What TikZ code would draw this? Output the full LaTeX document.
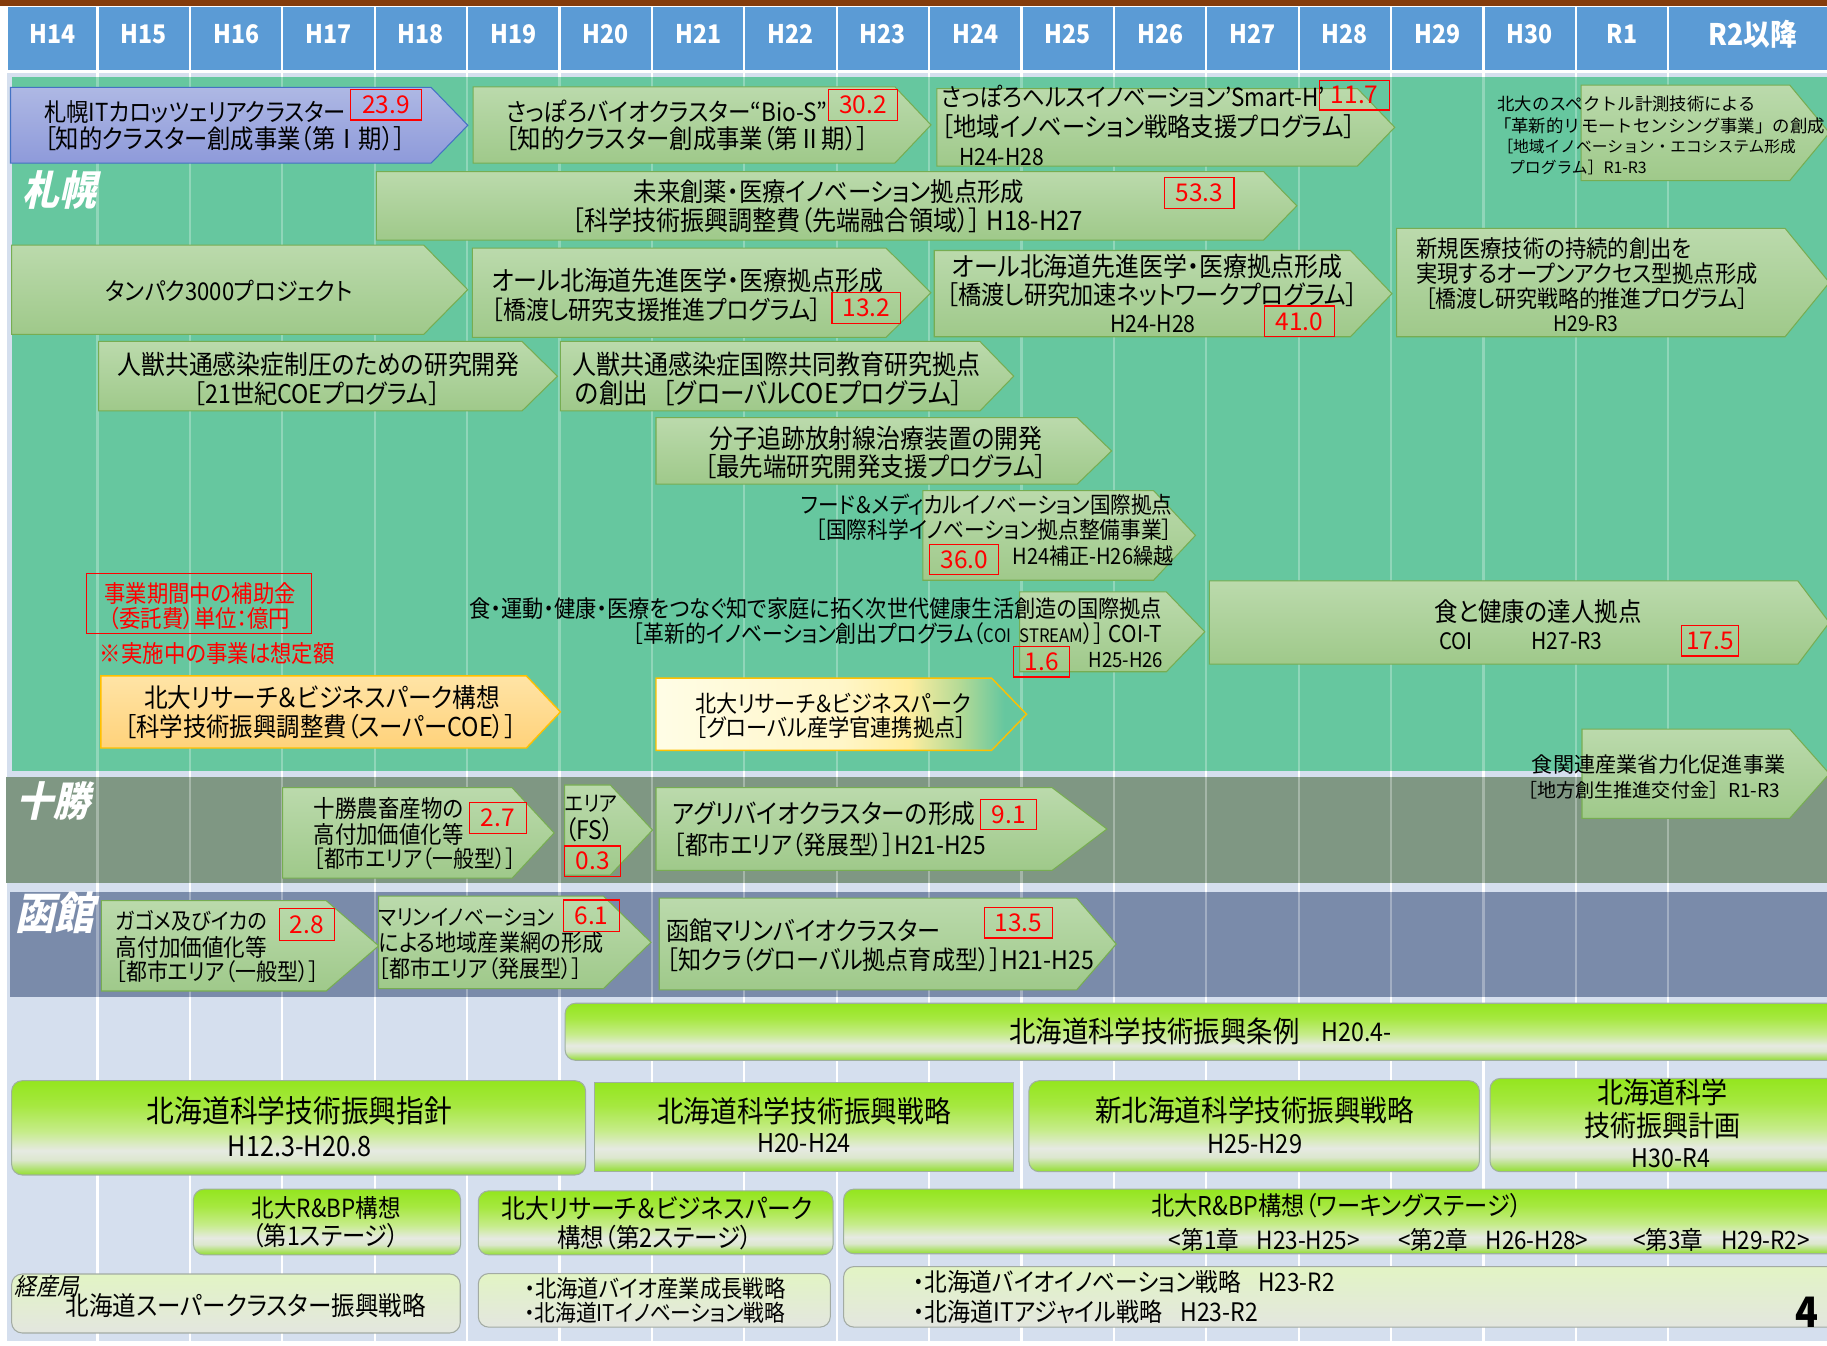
\documentclass[tikz,border=0pt]{standalone}
\usepackage{graphicx}
\usepackage{fontspec}
\setmainfont{Noto Sans CJK JP}[FakeStretch=0.9,RawFeature=+palt]
\newfontfamily\cjkn{Noto Sans CJK JP}
\newfontfamily\cjkit{Noto Sans CJK JP}[FakeStretch=0.9,FakeSlant=0.22,RawFeature=+palt]
\definecolor{brownbar}{HTML}{843C0C}
\definecolor{hdr}{HTML}{5B9BD5}
\definecolor{bgblue}{HTML}{D5DFEE}
\definecolor{mint}{HTML}{66C79F}
\definecolor{tokachi}{HTML}{7F9783}
\definecolor{hakodate}{HTML}{7A8BAA}
\definecolor{gTop}{HTML}{BBDAAC}
\definecolor{gBot}{HTML}{9FC98A}
\definecolor{garrB}{HTML}{77AD52}
\definecolor{bTop}{HTML}{AEB8E4}
\definecolor{bBot}{HTML}{8E9ADA}
\definecolor{bB}{HTML}{4472C4}
\definecolor{oTop}{HTML}{FFE4A6}
\definecolor{oBot}{HTML}{FFD27A}
\definecolor{oB}{HTML}{FFC000}
\definecolor{yA}{HTML}{FFFDE6}
\definecolor{yB}{HTML}{FFF6C8}
\definecolor{yC}{HTML}{FFEEA0}
\definecolor{yD}{HTML}{B4DA96}
\definecolor{gbA}{HTML}{92DE30}
\definecolor{gbP}{HTML}{DCE7CE}
\definecolor{gbQ}{HTML}{E6EAE2}
\definecolor{gbR}{HTML}{C6EC8A}
\definecolor{gbS}{HTML}{A6E840}
\definecolor{gbT}{HTML}{94E61E}
\definecolor{gbB}{HTML}{9FB09F}
\definecolor{pTop}{HTML}{E2F4C4}
\definecolor{pBot}{HTML}{E3E6DF}
\definecolor{pbB}{HTML}{A3ABA3}
\pgfdeclareverticalshading{gbar}{100bp}{color(0bp)=(gbA); color(25bp)=(gbA); color(33bp)=(gbP); color(38bp)=(gbQ); color(48bp)=(gbR); color(62bp)=(gbS); color(75bp)=(gbT); color(100bp)=(gbT)}
\pgfdeclarehorizontalshading{ygr}{100bp}{color(0bp)=(yA); color(25bp)=(yA); color(50bp)=(yB); color(59bp)=(yC); color(66bp)=(yD); color(72bp)=(mint); color(100bp)=(mint)}
\newcommand\fw[2]{\resizebox{#1pt}{!}{#2}}
\newcommand\penta[6]{\pgfmathsetmacro\ymid{(#3+#6)/2}\path[#1] (#2,#3) -- (#4,#3) -- (#5,\ymid) -- (#4,#6) -- (#2,#6) -- cycle;}
\tikzset{
 garr/.style={draw=garrB, line width=0.9pt, top color=gTop, bottom color=gBot},
 barr/.style={draw=bB, line width=0.9pt, top color=bTop, bottom color=bBot},
 oarr/.style={draw=oB, line width=1.2pt, top color=oTop, bottom color=oBot},
 yarr/.style={draw=oB, line width=1.2pt, shade, shading=ygr},
 gbox/.style={draw=gbB, line width=0.9pt, rounded corners=9pt, shade, shading=gbar},
 gsq/.style={draw=gbB, line width=0.9pt, shade, shading=gbar},
 pbox/.style={draw=pbB, line width=0.9pt, rounded corners=9pt, top color=pTop, bottom color=pBot},
 rb/.style={draw=red, line width=1pt, text=red, inner sep=0pt, font=\cjkn\fontsize{21}{21}\selectfont},
 tx/.style={inner sep=0pt, anchor=west, font=\fontsize{20}{24}\selectfont},
 txc/.style={inner sep=0pt, anchor=center, font=\fontsize{20}{24}\selectfont},
 txn/.style={inner sep=0pt, anchor=west, font=\cjkn\fontsize{20}{24}\selectfont},
 hd/.style={inner sep=0pt, text=white, font=\bfseries\fontsize{22}{22}\selectfont},
 lbl/.style={inner sep=0pt, text=white, font=\cjkit\bfseries\fontsize{30}{30}\selectfont}
}
\newcommand\rbox[6]{\node[rb, minimum width=#4pt, minimum height=#5pt] (#1) at (#2,#3) {#6};}
\begin{document}
\begin{tikzpicture}[x=1pt,y=-1pt]
\useasboundingbox (0,0) rectangle (1568,1155);
\fill[white] (0,0) rectangle (1568,1155);
% top bar and header
\fill[brownbar] (0,0) rectangle (1568,5);
\fill[hdr] (7,6.3) rectangle (82.7,60);
\node[hd] (h0) at (45,29) {H14};
\foreach \k/\lab in {1/H15,2/H16,3/H17,4/H18,5/H19,6/H20,7/H21,8/H22,9/H23,10/H24,11/H25,12/H26,13/H27,14/H28,15/H29,16/H30,17/R1}{
 \pgfmathsetmacro\xa{83.7+79.3*(\k-1)+1}
 \pgfmathsetmacro\xb{83.7+79.3*\k-1}
 \pgfmathsetmacro\xc{83.7+79.3*(\k-0.5)}
 \fill[hdr] (\xa,6.3) rectangle (\xb,60);
 \node[hd] (h\k) at (\xc,29) {\lab};
}
\fill[hdr] (1432.8,6.3) rectangle (1568,60);
\node[hd] (h18) at (1504,29) {\fw{76}{R2以降}};
% background and bands
\fill[bgblue] (6,63) rectangle (1568,1151);
\foreach \k in {0,...,17}{\draw[white, line width=2pt] ({83.7+79.3*\k},63) -- ({83.7+79.3*\k},1151);}
\fill[mint] (10,66) rectangle (1568,661.4);
\fill[tokachi] (4.8,666.5) rectangle (1568,757.5);
\fill[hakodate] (9,765.8) rectangle (1568,855.7);
\foreach \k in {0,...,17}{
 \draw[white, opacity=0.28, line width=2pt] ({83.7+79.3*\k},66) -- ({83.7+79.3*\k},661.4);
 \draw[white, opacity=0.3, line width=2pt] ({83.7+79.3*\k},666.5) -- ({83.7+79.3*\k},757.5);
 \draw[white, opacity=0.3, line width=2pt] ({83.7+79.3*\k},765.8) -- ({83.7+79.3*\k},855.7);}
\node[lbl] (lsap) at (51,163) {\fw{63}{札幌}};
\node[lbl] (ltok) at (46,687) {\fw{63}{十勝}};
\node[lbl] (lhak) at (47,783) {\fw{68}{函館}};
% ---- Sapporo ----
\penta{barr}{9}{75}{370}{401.5}{140}
\node[tx] (a1) at (37.8,96) {\fw{259}{札幌ITカロッツェリアクラスター}};
\node[tx] (a1b) at (37.8,119) {\fw{310}{［知的クラスター創成事業（第Ⅰ期）］}};
\rbox{r1}{331.3}{89.9}{60.6}{26.3}{23.9}
\penta{garr}{406}{74.5}{768}{799}{140}
\node[tx] (a2) at (434,96) {\fw{276}{さっぽろバイオクラスター“Bio-S”}};
\node[tx] (a2b) at (434,119) {\fw{311}{［知的クラスター創成事業（第Ⅱ期）］}};
\rbox{r2}{740.8}{90.3}{59.5}{26.6}{30.2}
\penta{garr}{804}{76}{1165}{1197}{142.5}
\node[tx] (a3) at (808,83) {\fw{329}{さっぽろヘルスイノベーション’Smart-H’}};
\node[tx] (a3b) at (808,108.7) {\fw{355}{［地域イノベーション戦略支援プログラム］}};
\node[tx] (a3c) at (823,134.5) {\fw{72.7}{H24-H28}};
\rbox{r3}{1162.6}{81.6}{59.9}{25.7}{11.7}
\penta{garr}{1357}{73}{1536}{1570}{155}
\node[txn] (a4) at (1285,89) {\fw{222}{北大のスペクトル計測技術による}};
\node[txn] (a4b) at (1282,108) {\fw{284}{「革新的リモートセンシング事業」の創成}};
\node[txn] (a4c) at (1285,126) {\fw{256}{［地域イノベーション・エコシステム形成}};
\node[txn] (a4d) at (1295,144) {\fw{118}{プログラム］R1-R3}};
\penta{garr}{323}{147.3}{1084.5}{1113}{206}
\node[txc] (a5) at (711.5,164.5) {\fw{335}{未来創薬・医療イノベーション拠点形成}};
\node[tx] (a5b) at (491,189) {\fw{438.5}{［科学技術振興調整費（先端融合領域）］ H18-H27}};
\rbox{r5}{1029.4}{165.5}{59.3}{26.9}{53.3}
\penta{garr}{10}{210.3}{363.6}{401.4}{287}
\node[tx] (a6) at (90.7,249.5) {\fw{211.5}{タンパク3000プロジェクト}};
\penta{garr}{405.4}{213}{760.5}{799}{289.5}
\node[tx] (a7) at (422,241) {\fw{336}{オール北海道先進医学・医療拠点形成}};
\node[tx] (a7b) at (422,266) {\fw{283}{［橋渡し研究支援推進プログラム］}};
\rbox{r7}{743.5}{264.2}{59}{26.6}{13.2}
\penta{garr}{801.8}{215}{1159}{1194.6}{289}
\node[tx] (a8) at (817,228.5) {\fw{335}{オール北海道先進医学・医療拠点形成}};
\node[tx] (a8b) at (812,252.5) {\fw{353}{［橋渡し研究加速ネットワークプログラム］}};
\node[tx] (a8c) at (952.6,278) {\fw{73.4}{H24-H28}};
\rbox{r8}{1115.3}{275.8}{59.5}{26.4}{41.0}
\penta{garr}{1198.6}{196}{1532}{1570}{289}
\node[tx] (a9) at (1215.5,213) {\fw{236}{新規医療技術の持続的創出を}};
\node[tx] (a9b) at (1215.5,235) {\fw{292.5}{実現するオープンアクセス型拠点形成}};
\node[tx] (a9c) at (1223,256) {\fw{277}{［橋渡し研究戦略的推進プログラム］}};
\node[tx] (a9d) at (1333,278) {\fw{56}{H29-R3}};
\penta{garr}{84.6}{293}{448}{478.4}{352.7}
\node[tx] (a10) at (100.7,313) {\fw{345}{人獣共通感染症制圧のための研究開発}};
\node[tx] (a10b) at (166,337.5) {\fw{211.5}{［21世紀COEプログラム］}};
\penta{garr}{481}{293}{841}{870}{352.7}
\node[tx] (a11) at (491,313) {\fw{350}{人獣共通感染症国際共同教育研究拠点}};
\node[tx] (a11b) at (493.6,337.5) {\fw{333}{の創出\hspace{10pt}［グローバルCOEプログラム］}};
\penta{garr}{563}{358.5}{924.5}{954}{415.5}
\node[tx] (a12) at (609,376) {\fw{285.5}{分子追跡放射線治療装置の開発}};
\node[tx] (a12b) at (604.5,400.5) {\fw{293.5}{［最先端研究開発支援プログラム］}};
\penta{garr}{792}{421}{990}{1026}{498}
\node[tx] (a13) at (687.5,433) {\fw{318.5}{フード＆メディカルイノベーション国際拠点}};
\node[tx] (a13b) at (700,455) {\fw{306}{［国際科学イノベーション拠点整備事業］}};
\node[tx] (a13c) at (868.7,477.5) {\fw{138}{H24補正-H26繰越}};
\rbox{r13}{827.5}{480}{59}{26}{36.0}
\penta{garr}{875}{508}{1001}{1034}{576.5}
\node[tx] (a14) at (403,522) {\fw{594}{食・運動・健康・医療をつなぐ知で家庭に拓く次世代健康生活創造の国際拠点}};
\node[tx] (a14b) at (543,544) {\fw{454}{［革新的イノベーション創出プログラム（{\fontsize{16}{16}\selectfont COI\hspace{7pt}STREAM}）］ COI-T}};
\node[tx] (a14c) at (934,566.5) {\fw{64}{H25-H26}};
\rbox{r14}{894}{568}{48}{26}{1.6}
\penta{garr}{1038}{498.6}{1543}{1570}{570}
\node[tx] (a15) at (1230.7,525) {\fw{178}{食と健康の達人拠点}};
\node[tx] (a15b) at (1235,550.5) {\fw{28.7}{COI}};
\node[tx] (a15c) at (1314,550.5) {\fw{61}{H27-R3}};
\rbox{r15}{1467.5}{550}{49}{26}{17.5}
\penta{oarr}{86.6}{580}{451.7}{481}{642}
\node[tx] (a17) at (123.4,599) {\fw{305.6}{北大リサーチ＆ビジネスパーク構想}};
\node[tx] (a17b) at (106.8,623.5) {\fw{336}{［科学技術振興調整費（スーパーCOE）］}};
\penta{yarr}{563}{582}{851}{881}{644}
\node[tx] (a18) at (597,603.5) {\fw{236}{北大リサーチ＆ビジネスパーク}};
\node[tx] (a18b) at (597,624.5) {\fw{232}{［グローバル産学官連携拠点］}};
% legend
\draw[red, line width=1pt] (74.5,492) rectangle (267,544);
\node[tx, text=red] (lg1) at (89.6,509) {\fw{164}{事業期間中の補助金}};
\node[tx, text=red] (lg2) at (93,530.5) {\fw{156}{（委託費）単位：億円}};
\node[tx, text=red] (lg3) at (85.6,560.5) {\fw{201.4}{※実施中の事業は想定額}};
% item 16 (crosses band edge)
\penta{garr}{1357.7}{625.7}{1536}{1570}{702.3}
\node[txn] (a16) at (1314.5,656.5) {\fw{217.5}{食関連産業省力化促進事業}};
\node[txn] (a16b) at (1303,678.5) {\fw{224.6}{［地方創生推進交付金］R1-R3}};
% ---- Tokachi ----
\penta{garr}{242.6}{676}{439.5}{475.6}{753.7}
\node[tx] (t1) at (269,693.5) {\fw{128.5}{十勝農畜産物の}};
\node[tx] (t1b) at (269,716) {\fw{128.5}{高付加価値化等}};
\node[tx] (t1c) at (269,737) {\fw{173.5}{［都市エリア（一般型）］}};
\rbox{r20}{427.3}{701.8}{48.6}{26.5}{2.7}
\penta{garr}{484.6}{673.7}{523.8}{560}{751}
\node[tx] (t2) at (484.7,690) {\fw{45}{エリア}};
\node[tx] (t2b) at (484.7,712.5) {\fw{42}{（FS）}};
\rbox{r21}{508.7}{739}{48.2}{26}{0.3}
\penta{garr}{563}{676}{903}{950}{747}
\node[tx] (t3) at (577,698.5) {\fw{260}{アグリバイオクラスターの形成}};
\node[tx] (t3b) at (578,725.5) {\fw{268}{［都市エリア（発展型）］H21-H25}};
\rbox{r22}{865.7}{699}{48.2}{26}{9.1}
% ---- Hakodate ----
\penta{garr}{87}{773}{280}{325}{850.5}
\node[tx] (k1) at (99.3,790.5) {\fw{129.5}{ガゴメ及びイカの}};
\node[tx] (k1b) at (99.3,813) {\fw{129.5}{高付加価値化等}};
\node[tx] (k1c) at (99.3,834) {\fw{174.6}{［都市エリア（一般型）］}};
\rbox{r23}{263.4}{793.5}{47.3}{27}{2.8}
\penta{garr}{325}{769}{517.8}{558.7}{848.5}
\node[tx] (k2) at (325,787) {\fw{150.6}{マリンイノベーション}};
\node[tx] (k2b) at (325,809) {\fw{192.8}{による地域産業網の形成}};
\node[tx] (k2c) at (325,831.5) {\fw{174.6}{［都市エリア（発展型）］}};
\rbox{r24}{507.6}{786}{48.1}{27.1}{6.1}
\penta{garr}{565.8}{770.8}{924}{958}{849.6}
\node[tx] (k3) at (571.8,799) {\fw{235}{函館マリンバイオクラスター}};
\node[tx] (k3b) at (571.8,824) {\fw{367}{［知クラ（グローバル拠点育成型）］H21-H25}};
\rbox{r25}{873.9}{792}{58.3}{26}{13.5}
% ---- bottom policies ----
\path[gbox] (485,861) rectangle (1590,910);
\node[tx] (p1) at (866,885.5) {\fw{249}{北海道科学技術振興条例}};
\node[tx] (p1b) at (1134,885.5) {\fw{60}{H20.4-}};
\path[gbox] (10,927.5) rectangle (502.6,1008.4);
\node[txc] (p2) at (257,953.5) {\fw{262}{北海道科学技術振興指針}};
\node[txc] (p2b) at (257,983.5) {\fw{123}{H12.3-H20.8}};
\path[gsq] (510,929) rectangle (870,1005.6);
\node[txc] (p3) at (690,953.5) {\fw{252}{北海道科学技術振興戦略}};
\node[txc] (p3b) at (690,981.5) {\fw{80.6}{H20-H24}};
\path[gbox] (883,927.5) rectangle (1269.7,1005.6);
\node[txc] (p4) at (1076.8,953) {\fw{273.6}{新北海道科学技術振興戦略}};
\node[txc] (p4b) at (1076.8,982) {\fw{81.6}{H25-H29}};
\path[gbox] (1278.8,925.5) rectangle (1590,1005.6);
\node[txc] (p5) at (1427,938) {\fw{111.7}{北海道科学}};
\node[txc] (p5b) at (1427,966) {\fw{134}{技術振興計画}};
\node[txc] (p5c) at (1434,994) {\fw{67}{H30-R4}};
\path[gbox] (166,1020.6) rectangle (395.3,1077);
\node[txc] (p6) at (280,1036.5) {\fw{127.5}{北大R\&BP構想}};
\node[txc] (p6b) at (279.5,1060.5) {\fw{126}{（第1ステージ）}};
\path[gbox] (410.5,1022) rectangle (715,1077);
\node[txc] (p7) at (564,1037.5) {\fw{267}{北大リサーチ＆ビジネスパーク}};
\node[txc] (p7b) at (562,1062) {\fw{167.6}{構想（第2ステージ）}};
\path[gbox] (724,1020.5) rectangle (1590,1076);
\node[txc] (p8) at (1147,1035) {\fw{318}{北大R\&BP構想（ワーキングステージ）}};
\node[tx] (p8a) at (1003,1064.5) {\fw{164}{<第1章\hspace{14pt}H23-H25>}};
\node[tx] (p8b) at (1200,1064.5) {\fw{163}{<第2章\hspace{14pt}H26-H28>}};
\node[tx] (p8c) at (1401.6,1064.5) {\fw{151.4}{<第3章\hspace{14pt}H29-R2>}};
\path[pbox] (10,1093.4) rectangle (395,1144);
\node[tx, font=\cjkit\fontsize{20}{24}\selectfont] (p9a) at (12.6,1104) {\fw{55.4}{経産局}};
\node[tx] (p9) at (56.4,1120.5) {\fw{308.6}{北海道スーパークラスター振興戦略}};
\path[pbox] (410.5,1093) rectangle (712.6,1139);
\node[tx] (p10) at (449.8,1105.5) {\fw{224}{・北海道バイオ産業成長戦略}};
\node[tx] (p10b) at (449.8,1126.5) {\fw{224}{・北海道ITイノベーション戦略}};
\path[pbox] (724,1087) rectangle (1590,1139);
\node[tx] (p11) at (783.6,1100.5) {\fw{361.7}{・北海道バイオイノベーション戦略\hspace{14pt}H23-R2}};
\node[tx] (p11b) at (783.6,1125.5) {\fw{295.8}{・北海道ITアジャイル戦略\hspace{14pt}H23-R2}};
\node[hd, text=black, font=\bfseries\fontsize{36}{36}\selectfont] (pg) at (1551,1126) {4};
\end{tikzpicture}
\end{document}
